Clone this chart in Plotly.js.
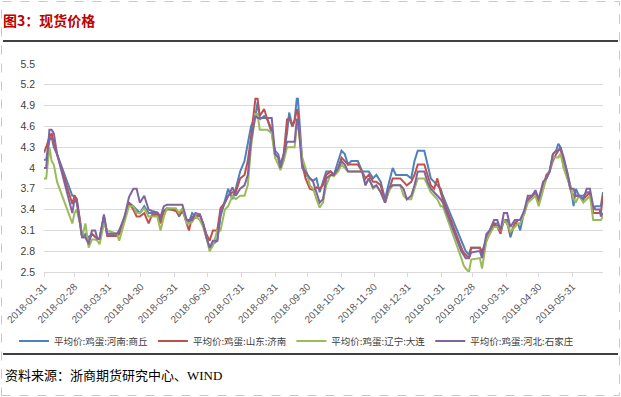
<!DOCTYPE html>
<html>
<head>
<meta charset="utf-8">
<script src="https://cdn.plot.ly/plotly-3.0.1.min.js"></script>
<style>
html,body{margin:0;padding:0;background:#fff;}
#chart{width:621px;height:397px;}
</style>
</head>
<body>
<div id="chart"></div>
<script>
const dates = [
"2018-01-31","2018-02-02","2018-02-05","2018-02-07","2018-02-09","2018-02-12","2018-02-26","2018-02-28","2018-03-02","2018-03-05",
"2018-03-07","2018-03-10","2018-03-13","2018-03-16","2018-03-19","2018-03-21","2018-03-23","2018-03-27","2018-03-30","2018-04-08",
"2018-04-10","2018-04-15","2018-04-19","2018-04-23","2018-04-26","2018-04-29","2018-05-03","2018-05-07","2018-05-10","2018-05-15",
"2018-05-18","2018-05-21","2018-05-24","2018-06-01","2018-06-04","2018-06-07","2018-06-11","2018-06-13","2018-06-16","2018-06-19",
"2018-06-23","2018-06-26","2018-06-29","2018-07-02","2018-07-05","2018-07-09","2018-07-12","2018-07-16","2018-07-19","2018-07-23",
"2018-07-26","2018-07-30","2018-08-03","2018-08-06","2018-08-09","2018-08-13","2018-08-15","2018-08-17","2018-08-21","2018-08-24",
"2018-08-28","2018-08-31","2018-09-03","2018-09-05","2018-09-08","2018-09-11","2018-09-13","2018-09-16","2018-09-18","2018-09-20",
"2018-09-21","2018-09-25","2018-09-28","2018-10-02","2018-10-05","2018-10-08","2018-10-11","2018-10-14","2018-10-17","2018-10-21",
"2018-10-24","2018-10-28","2018-10-31","2018-11-03","2018-11-06","2018-11-09","2018-11-15","2018-11-19","2018-11-22","2018-11-25",
"2018-11-29","2018-12-02","2018-12-06","2018-12-10","2018-12-13","2018-12-17","2018-12-20","2018-12-24","2018-12-27","2018-12-30",
"2019-01-03","2019-01-06","2019-01-09","2019-01-15","2019-01-18","2019-01-21","2019-01-24","2019-01-27","2019-01-30","2019-02-01",
"2019-02-18","2019-02-20","2019-02-22","2019-02-25","2019-02-27","2019-03-05","2019-03-07","2019-03-09","2019-03-13","2019-03-16",
"2019-03-20","2019-03-23","2019-03-26","2019-03-29","2019-04-01","2019-04-04","2019-04-08","2019-04-11","2019-04-13","2019-04-17",
"2019-04-20","2019-04-24","2019-04-27","2019-04-30","2019-05-04","2019-05-07","2019-05-10","2019-05-13","2019-05-16","2019-05-18",
"2019-05-20","2019-05-23","2019-05-26","2019-05-29","2019-06-01","2019-06-03","2019-06-06","2019-06-10","2019-06-13","2019-06-16",
"2019-06-19","2019-06-21","2019-06-25","2019-06-26","2019-06-28"
];

const henanShangqiu = [
4.12,4.12,4.40,4.45,4.30,4.20,3.60,3.60,3.55,3.20,
3.00,3.05,3.00,3.05,3.00,2.98,2.98,3.30,3.05,3.05,
3.05,3.30,3.50,3.45,3.40,3.35,3.45,3.35,3.35,3.35,
3.25,3.38,3.40,3.40,3.30,3.38,3.25,3.22,3.35,3.30,
3.33,3.20,3.00,2.85,2.90,2.95,3.30,3.55,3.70,3.55,
3.70,3.95,4.10,4.35,4.60,4.75,4.95,4.70,4.75,4.70,
4.50,4.25,4.20,4.05,4.20,4.50,4.80,4.60,4.70,5.00,
5.00,4.10,3.90,3.85,3.82,3.85,3.65,3.80,3.95,3.95,
3.90,4.10,4.25,4.20,4.05,4.10,4.10,3.95,3.95,3.95,
3.85,3.90,3.80,3.55,3.75,4.00,3.90,3.90,3.90,3.90,
3.85,4.10,4.25,4.25,4.05,3.85,3.80,3.75,3.70,3.60,
2.95,2.85,2.80,2.75,2.85,2.85,2.85,2.75,3.00,3.10,
3.20,3.20,3.10,3.25,3.25,3.00,3.20,3.20,3.10,3.40,
3.52,3.60,3.65,3.55,3.75,3.85,3.95,4.20,4.25,4.35,
4.30,4.10,3.95,3.75,3.45,3.70,3.60,3.60,3.65,3.65,
3.40,3.45,3.45,3.45,3.65
];

const shandongJinan = [
4.22,4.30,4.45,4.50,4.35,4.20,3.48,3.60,3.55,3.25,
3.00,3.00,2.95,3.05,3.00,2.98,2.98,3.30,3.02,3.02,
3.05,3.30,3.50,3.40,3.30,3.30,3.35,3.20,3.32,3.33,
3.20,3.38,3.42,3.38,3.32,3.40,3.20,3.10,3.30,3.28,
3.32,3.20,3.05,2.95,3.10,3.10,3.42,3.50,3.60,3.65,
3.65,3.85,3.90,4.10,4.45,5.00,5.00,4.75,4.85,4.70,
4.55,4.20,4.15,4.00,4.20,4.70,4.72,4.60,4.68,4.85,
4.80,4.05,3.85,3.70,3.68,3.72,3.70,3.75,3.90,3.95,
3.90,4.00,4.15,4.10,4.05,4.05,4.05,3.95,3.85,3.90,
3.80,3.80,3.75,3.50,3.65,3.85,3.85,3.85,3.80,3.75,
3.80,3.90,4.05,4.05,3.90,3.75,3.70,3.85,3.65,3.55,
2.85,2.78,2.75,2.70,2.85,2.85,2.85,2.80,2.95,3.05,
3.20,3.15,3.05,3.25,3.20,3.05,3.20,3.25,3.25,3.35,
3.55,3.60,3.65,3.50,3.75,3.90,3.95,4.10,4.20,4.25,
4.30,4.00,3.90,3.70,3.60,3.60,3.60,3.55,3.60,3.65,
3.35,3.35,3.35,3.35,3.60
];

const liaoningDalian = [
3.85,3.85,4.30,4.10,4.05,3.80,3.20,3.35,3.40,3.20,
3.00,3.20,2.85,2.97,2.97,2.95,2.90,3.20,3.10,3.05,
2.95,3.25,3.45,3.45,3.35,3.35,3.42,3.30,3.30,3.30,
3.10,3.30,3.42,3.42,3.35,3.42,3.20,3.20,3.22,3.30,
3.25,3.15,3.00,2.80,2.88,3.10,3.10,3.40,3.45,3.60,
3.55,3.60,3.60,3.75,4.30,4.78,4.78,4.55,4.55,4.55,
4.50,4.15,4.05,3.97,4.10,4.30,4.30,4.30,4.30,4.60,
4.65,4.15,4.00,3.75,3.70,3.55,3.43,3.50,3.75,3.90,
3.88,3.95,4.05,4.00,3.95,3.95,3.95,3.95,3.75,3.85,
3.70,3.75,3.65,3.50,3.65,3.75,3.75,3.75,3.60,3.55,
3.55,3.70,3.85,3.85,3.75,3.65,3.60,3.55,3.45,3.45,
2.70,2.60,2.55,2.50,2.68,2.70,2.70,2.55,2.95,3.05,
3.15,3.15,3.10,3.25,3.20,3.08,3.15,3.20,3.20,3.35,
3.50,3.55,3.60,3.45,3.70,3.85,3.95,4.15,4.15,4.15,
4.20,4.00,3.85,3.75,3.55,3.50,3.60,3.50,3.55,3.60,
3.25,3.25,3.25,3.25,3.30
];

const hebeiShijiazhuang = [
4.00,4.00,4.55,4.55,4.50,4.20,3.35,3.55,3.50,3.20,
3.00,3.00,2.90,3.10,3.10,2.98,2.98,3.33,3.05,3.05,
3.10,3.30,3.58,3.70,3.70,3.50,3.60,3.40,3.38,3.36,
3.30,3.45,3.47,3.47,3.47,3.47,3.25,3.25,3.25,3.35,
3.33,3.20,3.00,2.85,2.95,2.95,3.35,3.50,3.60,3.72,
3.60,3.70,3.75,3.90,4.40,4.75,4.72,4.72,4.72,4.72,
4.72,4.20,4.15,4.00,4.20,4.38,4.38,4.38,4.38,4.70,
4.70,4.00,3.95,3.85,3.80,3.65,3.50,3.55,3.85,3.90,
3.90,4.00,4.10,4.05,3.95,3.95,3.95,3.95,3.75,3.85,
3.72,3.75,3.65,3.50,3.70,3.75,3.75,3.75,3.70,3.55,
3.60,3.75,3.95,3.95,3.80,3.70,3.65,3.60,3.55,3.50,
2.80,2.75,2.70,2.70,2.78,2.80,2.80,2.70,3.05,3.10,
3.25,3.25,3.10,3.35,3.35,3.15,3.25,3.25,3.25,3.40,
3.60,3.60,3.68,3.55,3.80,3.85,3.95,4.20,4.25,4.25,
4.30,4.15,3.95,3.70,3.70,3.60,3.60,3.55,3.70,3.70,
3.45,3.40,3.40,3.30,3.35
];

const seriesNames = ["平均价:鸡蛋:河南:商丘","平均价:鸡蛋:山东:济南","平均价:鸡蛋:辽宁:大连","平均价:鸡蛋:河北:石家庄"];
const seriesColors = ["#4F81BD","#C0504D","#9BBB59","#8064A2"];
const tickDates = ["2018-01-31","2018-02-28","2018-03-31","2018-04-30","2018-05-31","2018-06-30","2018-07-31","2018-08-31","2018-09-30","2018-10-31","2018-11-30","2018-12-31","2019-01-31","2019-02-28","2019-03-31","2019-04-30","2019-05-31"];
const yTicks = [2.5,2.8,3.1,3.4,3.7,4,4.3,4.6,4.9,5.2,5.5];
const chartTitle = "图3：现货价格";
const sourceText = "资料来源：浙商期货研究中心、WIND";

const allValues = [henanShangqiu, shandongJinan, liaoningDalian, hebeiShijiazhuang];
const traces = allValues.map((vals, i) => ({
  x: dates, y: vals, type: "scatter", mode: "lines", name: seriesNames[i],
  line: {color: seriesColors[i], width: 2}
}));

const L = 44, R = 603, T = 64, B = 272;
const W = R - L, H = B - T;
const px = x => (x - L) / W;
const py = y => (B - y) / H;

const layout = {
  width: 621, height: 397,
  margin: {l: L, r: 621 - R, t: T, b: 397 - B, pad: 0},
  paper_bgcolor: "#ffffff", plot_bgcolor: "#ffffff",
  font: {family: "Noto Sans CJK SC, Liberation Sans, sans-serif", color: "#404040"},
  title: {text: chartTitle, x: 3/621, xanchor: "left", xref: "container", y: 1 - 21/397, yref: "container", yanchor: "middle",
          font: {family: "Noto Sans CJK SC, sans-serif", size: 14, color: "#C00000", weight: "bold"}},
  xaxis: {
    type: "date", range: ["2018-01-31", "2019-06-28"],
    tickvals: tickDates, ticktext: tickDates, tickangle: -45,
    tickfont: {family: "Liberation Sans, Arial, sans-serif", size: 10, color: "#595959"},
    showgrid: false, zeroline: false, showline: true, linecolor: "#D9D9D9", linewidth: 1,
    ticks: "outside", ticklen: 4, tickcolor: "#D9D9D9"
  },
  yaxis: {
    range: [2.5, 5.5], tickvals: yTicks, ticktext: yTicks.map(v => String(v)),
    tickfont: {family: "Liberation Sans, Arial, sans-serif", size: 10.5, color: "#404040"},
    showgrid: true, gridcolor: "#D9D9D9", gridwidth: 1, zeroline: false, showline: false,
    ticks: "", ticklabelstandoff: 8
  },
  showlegend: true,
  legend: {orientation: "h", x: px(14), xanchor: "left", y: py(341), yanchor: "middle",
           font: {family: "Noto Sans CJK SC, sans-serif", size: 9.5, color: "#404040"},
           itemwidth: 30, tracegroupgap: 0, bgcolor: "rgba(0,0,0,0)"},
  shapes: [
    {type: "line", xref: "paper", yref: "paper", x0: px(3), x1: px(618), y0: py(41), y1: py(41), line: {color: "#000000", width: 1.5}},
    {type: "line", xref: "paper", yref: "paper", x0: px(3), x1: px(618), y0: py(354), y1: py(354), line: {color: "#000000", width: 1.5}},
    {type: "rect", xref: "paper", yref: "paper", x0: px(1.5), x1: px(619.5), y0: py(395.5), y1: py(1.5), line: {color: "#C8C8C8", width: 1, dash: "dash"}}
  ],
  annotations: [
    {text: sourceText, xref: "paper", yref: "paper", x: px(3), y: py(375), xanchor: "left", yanchor: "middle", showarrow: false,
     font: {family: "Liberation Serif, Noto Sans CJK SC, serif", size: 13, color: "#000000"}}
  ]
};

Plotly.newPlot("chart", traces, layout, {displayModeBar: false, staticPlot: true});
</script>
</body>
</html>
